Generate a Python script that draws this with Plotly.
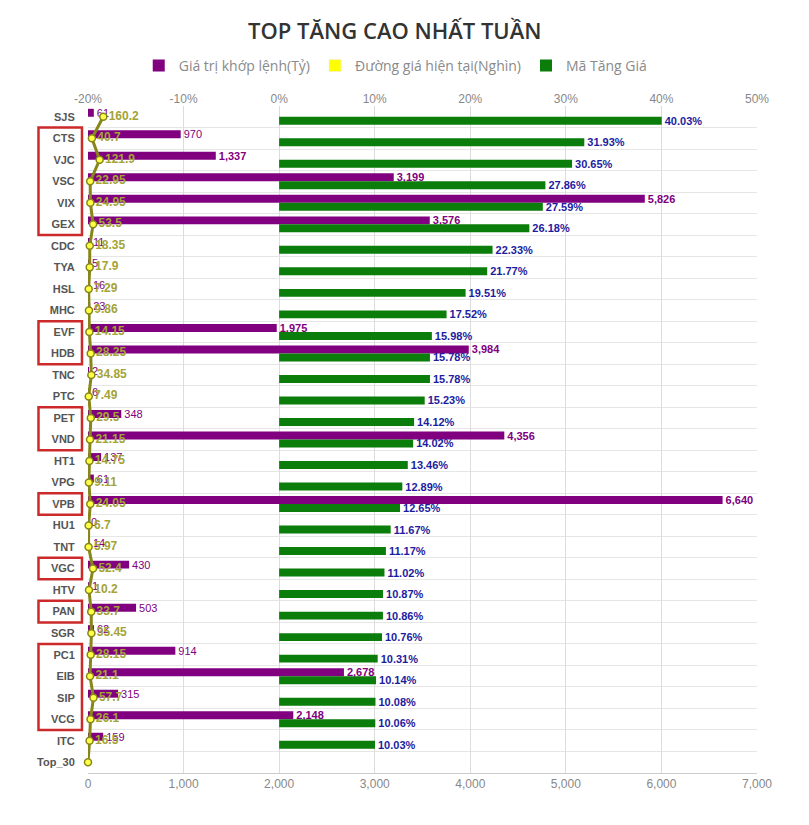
import plotly.graph_objects as go

categories = ["SJS", "CTS", "VJC", "VSC", "VIX", "GEX", "CDC", "TYA", "HSL", "MHC",
              "EVF", "HDB", "TNC", "PTC", "PET", "VND", "HT1", "VPG", "VPB", "HU1",
              "TNT", "VGC", "HTV", "PAN", "SGR", "PC1", "EIB", "SIP", "VCG", "ITC", "Top_30"]
trade_value = [61, 970, 1337, 3199, 5826, 3576, 11, 5, 16, 23,
               1975, 3984, 2, 6, 348, 4356, 137, 61, 6640, 0,
               14, 430, 1, 503, 62, 914, 2678, 315, 2148, 159, None]
price = [160.2, 40.7, 121.9, 22.95, 24.95, 53.5, 18.35, 17.9, 7.29, 9.86,
         14.15, 28.25, 34.85, 7.49, 29.5, 21.15, 14.75, 9.11, 24.05, 6.7,
         5.97, 52.4, 10.2, 33.7, 35.45, 28.15, 21.1, 57.7, 26.1, 16.5, 0]
pct_gain = [40.03, 31.93, 30.65, 27.86, 27.59, 26.18, 22.33, 21.77, 19.51, 17.52,
            15.98, 15.78, 15.78, 15.23, 14.12, 14.02, 13.46, 12.89, 12.65, 11.67,
            11.17, 11.02, 10.87, 10.86, 10.76, 10.31, 10.14, 10.08, 10.06, 10.03, None]
highlight_groups = [["CTS", "GEX"], ["EVF", "HDB"], ["PET", "VND"], ["VPB", "VPB"],
                    ["VGC", "VGC"], ["PAN", "PAN"], ["PC1", "VCG"]]
x_ticks = [0, 1000, 2000, 3000, 4000, 5000, 6000, 7000]
pct_ticks = [-20, -10, 0, 10, 20, 30, 40, 50]

ys = list(range(len(categories)))

def fmt_val(v):
    if v is None:
        return ""
    s = f"{v:,}"
    return f"<b>{s}</b>" if v >= 1000 else s

value_text = [fmt_val(v) for v in trade_value]
pct_text = ["" if p is None else f"{p:.2f}%" for p in pct_gain]
price_text = ["" if (p == 0) else f"<b>{p:g}</b>" for p in price]
pct_ticktext = [f"{t}%" for t in pct_ticks]

PURPLE = "#800080"
GREEN = "#0a7d0a"
OLIVE = "#86861a"

fig = go.Figure()
fig.add_trace(go.Bar(
    name="Giá trị khớp lệnh(Tỷ)", orientation="h", x=trade_value, y=ys,
    width=0.37, offset=-0.37, marker=dict(color=PURPLE, line=dict(width=0)),
    text=value_text, textposition="outside", cliponaxis=False, constraintext="none",
    textfont=dict(color=PURPLE, size=11, family="Arial"),
    xaxis="x", yaxis="y"))
fig.add_trace(go.Bar(
    name="Đường giá hiện tại(Nghìn)", orientation="h", x=[None], y=[None],
    marker=dict(color="#ffff00"), xaxis="x", yaxis="y"))
fig.add_trace(go.Bar(
    name="Mã Tăng Giá", orientation="h", x=pct_gain, y=ys,
    width=0.37, offset=0.0, marker=dict(color=GREEN, line=dict(width=0)),
    text=pct_text, textposition="outside", cliponaxis=False, constraintext="none",
    textfont=dict(color="#1c1ca0", size=11, family="Arial", weight="bold"),
    xaxis="x2", yaxis="y"))
fig.add_trace(go.Scatter(
    name="price", x=price, y=ys, mode="lines+markers+text",
    line=dict(color=OLIVE, width=3),
    marker=dict(size=7, color="#ffff44", line=dict(color=OLIVE, width=1.5)),
    text=price_text, textposition="middle right",
    textfont=dict(color="#a3a336", size=12, family="Arial"),
    showlegend=False, cliponaxis=False, xaxis="x", yaxis="y"))

# highlight boxes around selected tickers
shapes = []
for a, b in highlight_groups:
    i0, i1 = categories.index(a), categories.index(b)
    shapes.append(dict(type="rect", xref="paper", yref="y",
                       x0=-0.074, x1=-0.009, y0=i0 - 0.5, y1=i1 + 0.5,
                       line=dict(color="#cc2a2a", width=2.5), fillcolor="rgba(0,0,0,0)"))

fig.update_layout(
    width=809, height=825,
    margin=dict(l=88, r=52, t=106, b=52),
    paper_bgcolor="white", plot_bgcolor="white",
    barmode="overlay",
    title=dict(text="TOP TĂNG CAO NHẤT TUẦN", x=0.488, xanchor="center", y=0.962, yanchor="middle",
               font=dict(family="Open Sans", size=22, color="#333333", weight=600)),
    legend=dict(orientation="h", x=0.46, xanchor="center", y=1.06, yanchor="middle",
                font=dict(family="Open Sans", size=14, color="#8a8a8a"),
                itemwidth=30, bgcolor="rgba(0,0,0,0)"),
    xaxis=dict(range=[0, 7000], tickvals=x_ticks, tickformat=",", side="bottom",
               showgrid=True, gridcolor="#dcdcdc", zeroline=False,
               showline=True, linecolor="#cccccc",
               tickfont=dict(family="Arial", size=12, color="#888888")),
    xaxis2=dict(range=[-20, 50], tickvals=pct_ticks, ticktext=pct_ticktext, overlaying="x",
                side="top", showgrid=False, zeroline=False,
                tickfont=dict(family="Arial", size=12, color="#888888")),
    yaxis=dict(range=[len(categories) - 0.5, -0.5], tickvals=ys, ticktext=categories,
               showgrid=False, zeroline=False, ticks="outside", ticklen=10,
               tickcolor="rgba(0,0,0,0)",
               tickfont=dict(family="Arial", size=11, color="#555555", weight="bold"),
               minor=dict(tickvals=[i - 0.5 for i in range(len(categories) + 1)],
                          showgrid=True, gridcolor="#e6e6e6", ticklen=0)),
    shapes=shapes,
)

fig.write_html("out.html")
